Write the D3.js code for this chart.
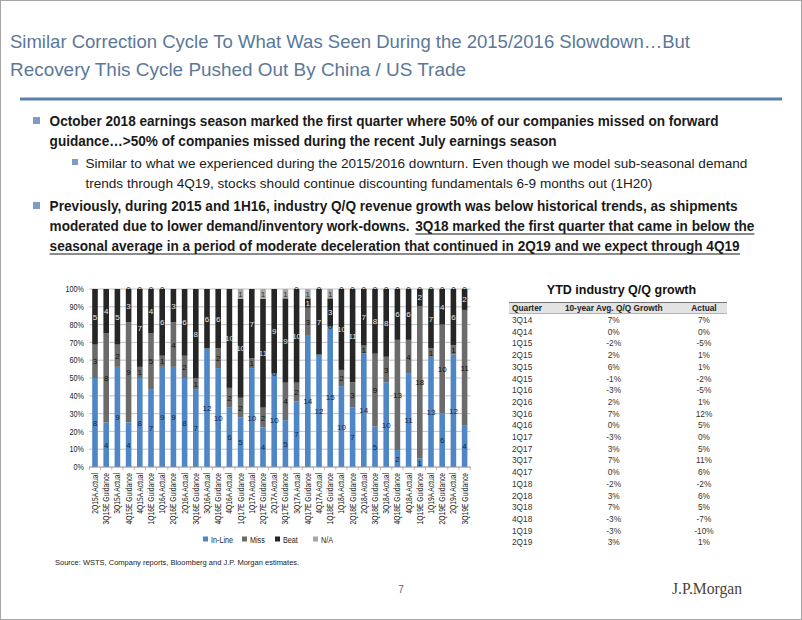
<!DOCTYPE html>
<html><head><meta charset="utf-8">
<script src="https://cdn.jsdelivr.net/npm/d3@7"></script>
<style>body{margin:0;background:#fff}svg{display:block;font-family:Arial,"Liberation Sans",sans-serif}</style>
</head><body><svg id="c" width="802" height="620"></svg>
<script>
// ---------- data ----------
const categories = ["2Q15A Actual","3Q15E Guidance","3Q15A Actual","4Q15E Guidance","4Q15A Actual","1Q16E Guidance","1Q16A Actual","2Q16E Guidance","2Q16A Actual","3Q16E Guidance","3Q16A Actual","4Q16E Guidance","4Q16A Actual","1Q17E Guidance","1Q17A Actual","2Q17E Guidance","2Q17A Actual","3Q17E Guidance","3Q17A Actual","4Q17E Guidance","4Q17A Actual","1Q18E Guidance","1Q18A Actual","2Q18E Guidance","2Q18A Actual","3Q18E Guidance","3Q18A Actual","4Q18E Guidance","4Q18A Actual","1Q19E Guidance","1Q19A Actual","2Q19E Guidance","2Q19A Actual","3Q19E Guidance"];
const inLine = [8,4,9,4,8,7,9,9,8,7,12,10,6,5,10,4,10,5,7,14,12,15,10,7,14,5,10,2,11,1,13,6,12,4];
const miss   = [3,8,2,9,1,5,1,4,2,1,null,2,2,2,1,2,0,4,2,3,null,0,2,3,1,9,3,13,4,18,1,10,1,11];
const beat   = [5,4,5,3,7,4,6,3,6,8,6,6,10,10,7,11,9,9,10,1,7,3,10,11,7,8,8,6,6,2,7,4,6,2];
const na     = [null,null,null,0,0,0,0,null,null,null,null,null,null,1,null,1,null,1,0,1,0,1,0,0,0,0,0,0,0,0,0,0,0,0];
const seriesNames = ["In-Line","Miss","Beat","N/A"];
const yTicks = [0,0.1,0.2,0.3,0.4,0.5,0.6,0.7,0.8,0.9,1];

const quarters = ["3Q14","4Q14","1Q15","2Q15","3Q15","4Q15","1Q16","2Q16","3Q16","4Q16","1Q17","2Q17","3Q17","4Q17","1Q18","2Q18","3Q18","4Q18","1Q19","2Q19"];
const avgGrowth = ["7%","0%","-2%","2%","6%","-1%","-3%","2%","7%","0%","-3%","3%","7%","0%","-2%","3%","7%","-3%","-3%","3%"];
const actualGrowth = ["7%","0%","-5%","1%","1%","-2%","-5%","1%","12%","5%","0%","5%","11%","6%","-2%","6%","5%","-7%","-10%","1%"];
const tableHeader = ["Quarter","10-year Avg. Q/Q Growth","Actual"];

const titleLines = ["Similar Correction Cycle To What Was Seen During the 2015/2016 Slowdown\u2026But","Recovery This Cycle Pushed Out By China / US Trade"];

// ---------- drawing ----------
const svg = d3.select("#c");
svg.append("rect").attr("x",0.5).attr("y",0.5).attr("width",801).attr("height",619)
  .attr("fill","#fff").attr("stroke","#a6a6a6");

function squeeze(sel, f){ sel.each(function(){ const w=this.getComputedTextLength(); d3.select(this).attr("textLength",w*f).attr("lengthAdjust","spacingAndGlyphs"); }); }

// title
const titleWidths = [680, 456];
titleLines.forEach((t,i)=>{
  svg.append("text").attr("x",10).attr("y",48+i*28).attr("font-size",19)
    .attr("fill","#5b7898").attr("textLength",titleWidths[i]).attr("lengthAdjust","spacingAndGlyphs").text(t);
});
svg.append("line").attr("x1",20).attr("x2",782).attr("y1",99).attr("y2",99)
  .attr("stroke","#5b7fae").attr("stroke-width",3);

// bullets
function line(x, y, w, txt, bold, size){
  svg.append("text").attr("x",x).attr("y",y)
    .attr("font-size",size||14).attr("font-weight",bold?"bold":"normal").attr("fill","#1a1a1a")
    .attr("textLength",w).attr("lengthAdjust","spacingAndGlyphs").text(txt);
}
function square(x,y,s){ svg.append("rect").attr("x",x).attr("y",y).attr("width",s).attr("height",s).attr("fill","#7c9cc4"); }
square(33,117,7);
line(49.6,126,669,"October 2018 earnings season marked the first quarter where 50% of our companies missed on forward",true);
line(49.6,146,507,"guidance\u2026>50% of companies missed during the recent July earnings season",true);
square(72,159,6);
line(85.4,168,662,"Similar to what we experienced during the 2015/2016 downturn. Even though we model sub-seasonal demand",false,13.5);
line(85.4,188,567,"trends through 4Q19, stocks should continue discounting fundamentals 6-9 months out (1H20)",false,13.5);
square(33,202,7);
line(49.6,211,688,"Previously, during 2015 and 1H16, industry Q/Q revenue growth was below historical trends, as shipments",true);
line(49.6,231,360,"moderated due to lower demand/inventory work-downs.",true);
line(415.3,231,339,"3Q18 marked the first quarter that came in below the",true);
line(49.6,251,690,"seasonal average in a period of moderate deceleration that continued in 2Q19 and we expect through 4Q19",true);
svg.append("line").attr("x1",415.3).attr("x2",754.4).attr("y1",234).attr("y2",234).attr("stroke","#1a1a1a").attr("stroke-width",1);
svg.append("line").attr("x1",49.6).attr("x2",740).attr("y1",254).attr("y2",254).attr("stroke","#1a1a1a").attr("stroke-width",1);

// chart
const x = d3.scaleBand().domain(categories).range([89.4,470.2]).paddingInner(0.5).paddingOuter(0.25);
const y = d3.scaleLinear().domain([0,1]).range([467,289]);
const colors = ["#4f86c6","#6b6b6b","#262626","#a6a6a6"];
const labelColors = ["#14284b","#111","#e6e6e6","#333"];
const g = svg.append("g");

g.selectAll("line.grid").data(yTicks).join("line").attr("class","grid")
  .attr("x1",89).attr("x2",470.5).attr("y1",d=>y(d)).attr("y2",d=>y(d))
  .attr("stroke","#b3b3b3").attr("stroke-width",0.8);

const yAxis = d3.axisLeft(y).tickValues(yTicks).tickFormat(d3.format(".0%")).tickSize(0).tickPadding(5);
const ya = g.append("g").attr("transform","translate(89,0)").call(yAxis);
ya.select(".domain").remove();
ya.selectAll("text").attr("font-size",8.5).attr("fill","#222").attr("font-family","Arial,sans-serif");
squeeze(ya.selectAll("text"),0.85);

// stacked bars
const series = [inLine, miss, beat, na];
categories.forEach((c,i)=>{
  const vals = series.map(s=>s[i]);
  const total = d3.sum(vals.map(v=>v||0));
  let cum = 0;
  vals.forEach((v,k)=>{
    if (v===null) return;
    const y0 = cum/total, y1 = (cum+v)/total;
    cum += v;
    if (v>0) g.append("rect").attr("x",x(c)).attr("width",x.bandwidth())
      .attr("y",y(y1)).attr("height",y(y0)-y(y1)).attr("fill",colors[k]);
    g.append("text").attr("x",x(c)+x.bandwidth()/2).attr("y",y((y0+y1)/2)+3)
      .attr("text-anchor","middle").attr("font-size",8).attr("fill",v===0?"#222":labelColors[k]).text(v);
  });
});

// x axis
const xa = g.append("g").attr("transform","translate(0,467)");
xa.append("line").attr("x1",89).attr("x2",470.5).attr("stroke","#999").attr("stroke-width",0.8);
const step = x.step();
d3.range(categories.length+1).forEach(i=>{
  const xx = x(categories[0]) - x.bandwidth()*0.5 + i*step;
  xa.append("line").attr("x1",xx).attr("x2",xx).attr("y1",0).attr("y2",3).attr("stroke","#c0a080").attr("stroke-width",0.8);
});
const xl = g.selectAll("text.xl").data(categories).join("text").attr("class","xl")
  .attr("transform",d=>`translate(${x(d)+x.bandwidth()/2+3},473) rotate(-90)`)
  .attr("text-anchor","end").attr("font-size",8.5).attr("fill","#222").text(d=>d);
squeeze(xl,0.79);

// legend
const legX = [203,242,275,313];
seriesNames.forEach((n,k)=>{
  g.append("rect").attr("x",legX[k]).attr("y",536.5).attr("width",5).attr("height",5).attr("fill",colors[k]);
  const t = g.append("text").attr("x",legX[k]+8).attr("y",542.5).attr("font-size",8.5).attr("fill","#222").text(n);
  squeeze(t,0.85);
});

// table
svg.append("text").attr("x",621.5).attr("y",294).attr("text-anchor","middle").attr("font-size",12.5)
  .attr("font-weight","bold").attr("fill","#111").text("YTD industry Q/Q growth");
svg.append("rect").attr("x",509).attr("y",302.5).attr("width",218).attr("height",11).attr("fill","#e3e3e3");
svg.append("line").attr("x1",509).attr("x2",727).attr("y1",302.5).attr("y2",302.5).attr("stroke","#555").attr("stroke-width",0.8);
svg.append("line").attr("x1",509).attr("x2",727).attr("y1",313.5).attr("y2",313.5).attr("stroke","#777").attr("stroke-width",0.5);
const colX = [512,613.7,704];
const colAnchor = ["start","middle","middle"];
tableHeader.forEach((h,j)=>{
  svg.append("text").attr("x",colX[j]).attr("y",311).attr("text-anchor",colAnchor[j])
    .attr("font-size",8.3).attr("font-weight","bold").attr("fill","#222").text(h);
});
quarters.forEach((q,r)=>{
  const yy = 323 + r*11.7;
  [q, avgGrowth[r], actualGrowth[r]].forEach((t,j)=>{
    svg.append("text").attr("x",colX[j]).attr("y",yy).attr("text-anchor",colAnchor[j])
      .attr("font-size",8.3).attr("fill","#333").text(t);
  });
});

// footer
svg.append("text").attr("x",55).attr("y",565).attr("font-size",7.5).attr("fill","#222")
  .text("Source: WSTS, Company reports, Bloomberg and J.P. Morgan estimates.");
svg.append("text").attr("x",401).attr("y",593).attr("text-anchor","middle").attr("font-size",10).attr("fill","#666").text("7");
svg.append("text").attr("x",672).attr("y",594).attr("font-family",'"Liberation Serif","Times New Roman",serif')
  .attr("font-size",16).attr("fill","#4a3f3a").attr("textLength",70).attr("lengthAdjust","spacingAndGlyphs").text("J.P.Morgan");
</script></body></html>
